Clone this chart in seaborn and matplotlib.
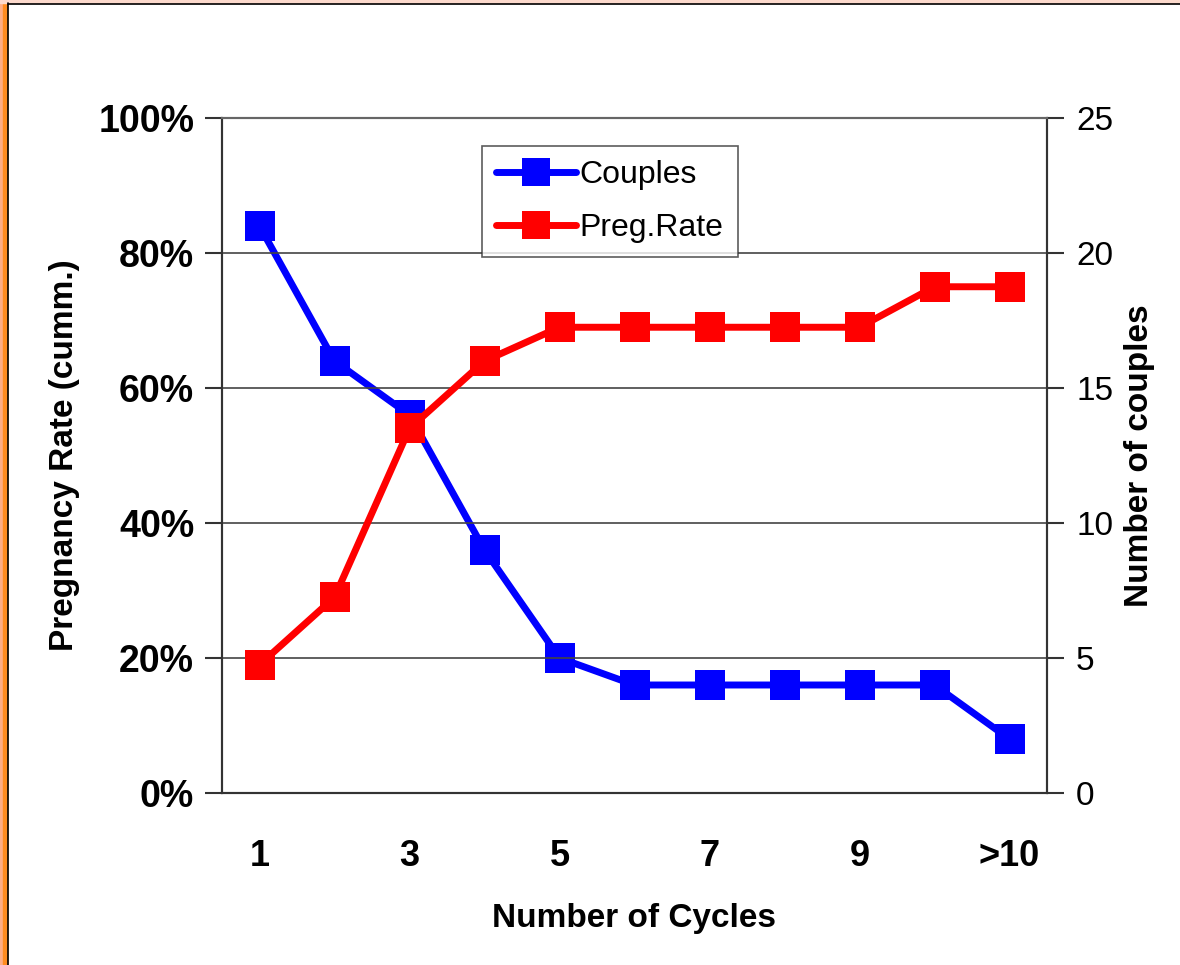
import matplotlib
matplotlib.use("Agg")
import matplotlib.pyplot as plt
from matplotlib.patches import Rectangle
from matplotlib.lines import Line2D
import pandas as pd
import seaborn as sb

cycles = ["1", "2", "3", "4", "5", "6", "7", "8", "9", "10", ">10"]
couples = [21, 16, 14, 9, 5, 4, 4, 4, 4, 4, 2]
preg_rate = [19, 29, 54, 64, 69, 69, 69, 69, 69, 75, 75]
shown_labels = ["1", "3", "5", "7", "9", ">10"]

df = pd.DataFrame({"cycle": cycles, "couples": couples, "rate": preg_rate})
df["pos"] = range(len(df))

sb.set_theme(style="white")
plt.rcParams["font.family"] = ["Liberation Sans", "DejaVu Sans"]
plt.rcParams["text.color"] = "black"
plt.rcParams["axes.labelcolor"] = "black"
plt.rcParams["xtick.color"] = "black"
plt.rcParams["ytick.color"] = "black"

fig = plt.figure(figsize=(11.8, 9.65), dpi=100)
ax = fig.add_axes([222 / 1180, 172 / 965, 825 / 1180, 675 / 965])
ax2 = ax.twinx()

# couples on the right axis
sb.lineplot(data=df, x="pos", y="couples", ax=ax2, color="#0000FF", lw=5,
            marker="s", markersize=22, markeredgewidth=0, legend=False)
# pregnancy rate on the left axis, drawn on top
sb.lineplot(data=df, x="pos", y="rate", ax=ax, color="#FF0000", lw=5,
            marker="s", markersize=22, markeredgewidth=0, legend=False)
ax.set_zorder(ax2.get_zorder() + 1)
ax.patch.set_visible(False)

ax.set_xlim(-0.5, len(cycles) - 0.5)
ax.set_ylim(0, 100)
ax2.set_ylim(0, 25)

ax.set_yticks(range(0, 101, 20))
ax.set_yticklabels([f"{v}%" for v in range(0, 101, 20)], fontsize=27, fontweight="bold")
ax2.set_yticks(range(0, 26, 5))
ax2.set_yticklabels([str(v) for v in range(0, 26, 5)], fontsize=24)

pos_shown = [cycles.index(c) for c in shown_labels]
ax.set_xticks(pos_shown)
ax.set_xticklabels(shown_labels, fontsize=26, fontweight="bold")
ax.set_xticks([i - 0.5 for i in range(len(cycles) + 1)], minor=True)
ax.tick_params(axis="x", which="major", length=0, pad=33)
ax.tick_params(axis="x", which="minor", length=12, width=1.5, color="#333333", direction="out")
ax.tick_params(axis="y", length=12, width=1.5, color="#333333", direction="out", pad=8, left=True)
ax2.tick_params(axis="y", length=12, width=1.5, color="#333333", direction="out", pad=9, right=True)

ax.grid(True, axis="y", color="#444444", lw=1.2)
ax.grid(False, axis="x")
for a in (ax, ax2):
    for s in a.spines.values():
        s.set_color("#333333")
        s.set_linewidth(1.5)
    a.spines["top"].set_color("#666666")

ax.set_xlabel("Number of Cycles", fontsize=24, fontweight="bold", labelpad=21)
ax.set_ylabel("Pregnancy Rate (cumm.)", fontsize=24, fontweight="bold", labelpad=13)
ax2.set_ylabel("Number of couples", fontsize=24, fontweight="bold", labelpad=8)

handles = [
    Line2D([], [], color="#0000FF", lw=5, marker="s", markersize=20, markeredgewidth=0),
    Line2D([], [], color="#FF0000", lw=5, marker="s", markersize=20, markeredgewidth=0),
]
leg = ax.legend(handles, ["Couples", "Preg.Rate"], loc="upper left",
                bbox_to_anchor=((482 - 222) / 825, (793 - 146) / 675),
                fontsize=23, frameon=True, fancybox=False, handlelength=2.5,
                handletextpad=0.1, borderpad=0.45, labelspacing=0.7, borderaxespad=0)
leg.get_frame().set_edgecolor("#333333")
leg.get_frame().set_linewidth(1.2)

# slide frame on the left and top edges
fig.patches.append(Rectangle((0, 0), 3 / 1180, 1, transform=fig.transFigure,
                             color="#FFAE85", zorder=0))
fig.patches.append(Rectangle((3 / 1180, 0), 4 / 1180, 1, transform=fig.transFigure,
                             color="#FF8C20", zorder=0))
fig.patches.append(Rectangle((0, 1 - 3 / 965), 1, 3 / 965, transform=fig.transFigure,
                             color="#FCD9CC", zorder=0))
fig.lines.append(Line2D([7.5 / 1180, 7.5 / 1180], [0, 1 - 3 / 965], transform=fig.transFigure,
                        color="black", lw=1.2))
fig.lines.append(Line2D([7.5 / 1180, 1], [1 - 3.5 / 965, 1 - 3.5 / 965], transform=fig.transFigure,
                        color="black", lw=1.2))

fig.savefig("out.png", dpi=100)
plt.close(fig)
